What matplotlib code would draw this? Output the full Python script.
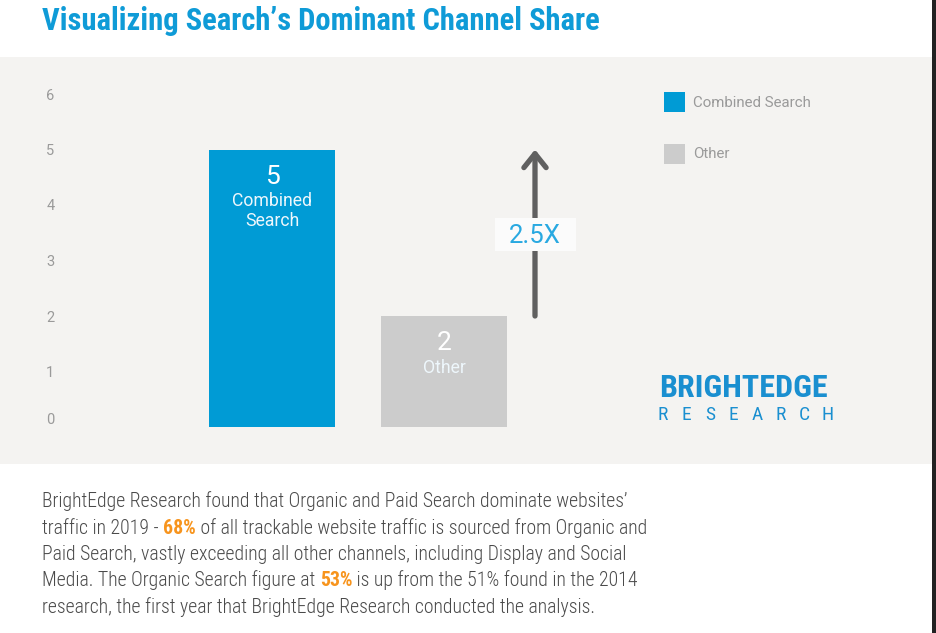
import matplotlib
matplotlib.use('Agg')
import matplotlib.pyplot as plt
from matplotlib import font_manager as fm
from matplotlib.patches import Rectangle, FancyArrowPatch

# ---------------- data ----------------
categories = ['Combined Search', 'Other']
values = [5, 2]
bar_colors = ['#009bd5', '#cccccc']
yticks = [0, 1, 2, 3, 4, 5, 6]
ratio_label = '2.5X'
title = "Visualizing Search\u2019s Dominant Channel Share"
body_lines = [
    [("BrightEdge Research found that Organic and Paid Search dominate websites\u2019", False)],
    [("traffic in 2019 - ", False), ("68%", True),
     (" of all trackable website traffic is sourced from Organic and", False)],
    [("Paid Search, vastly exceeding all other channels, including Display and Social", False)],
    [("Media. The Organic Search figure at ", False), ("53%", True),
     (" is up from the 51% found in the 2014", False)],
    [("research, the first year that BrightEdge Research conducted the analysis.", False)],
]
logo_top = 'BRIGHTEDGE'
logo_bottom = 'RESEARCH'

# ---------------- fonts ----------------
names = {f.name for f in fm.fontManager.ttflist}


def pick(*cands):
    for n in cands:
        if n in names:
            return n
    return 'DejaVu Sans'


COND = pick('Roboto Condensed', 'Liberation Sans Narrow', 'Open Sans Condensed', 'Roboto')
REG = pick('Roboto', 'Liberation Sans', 'DejaVu Sans')

# ---------------- figure ----------------
W, H = 936, 633
fig = plt.figure(figsize=(W / 100, H / 100), dpi=100)
fig.patch.set_facecolor('white')


def fx(px):
    return px / W


def fy(py):
    return 1 - py / H


fig.add_artist(Rectangle((0, fy(464)), 1, fy(57) - fy(464), transform=fig.transFigure,
                         facecolor='#f4f3f1', edgecolor='none', zorder=-2))
fig.add_artist(Rectangle((fx(932), 0), fx(4), 1, transform=fig.transFigure,
                         facecolor='#222222', edgecolor='none', zorder=-1))

# main axes
AXL, AXR = 58, 900
C0, STEP = 272, 172
ax = fig.add_axes([fx(AXL), fy(427), fx(AXR) - fx(AXL), fy(94) - fy(427)])
ax.patch.set_visible(False)
ax.set_ylim(0, 6)
ax.set_xlim(-(C0 - AXL) / STEP, (AXR - C0) / STEP)
xs = list(range(len(categories)))
bars = ax.bar(xs, values, width=126 / STEP, color=bar_colors, zorder=2)
for s in ax.spines.values():
    s.set_visible(False)
ax.set_xticks([])
ax.set_yticks(yticks)
ax.set_yticklabels([str(t) for t in yticks])
ax.tick_params(axis='y', length=0, pad=2.5, labelsize=10.5, labelcolor='#9a9a9a')
for lab in ax.get_yticklabels():
    lab.set_family(REG)
    lab.set_fontweight('normal')
    if lab.get_text() == '0':
        lab.set_va('bottom')

# labels inside bars
PT = 0.72
for i, (cat, v) in enumerate(zip(categories, values)):
    ax.annotate(str(v), xy=(i, v), xytext=(0, -27 * PT), textcoords='offset points',
                ha='center', va='center', fontsize=19, color='white', family=REG, zorder=3)
    for k, word in enumerate(cat.split()):
        ax.annotate(word, xy=(i, v), xytext=(0, -(52 + 20 * k) * PT), textcoords='offset points',
                    ha='center', va='center', fontsize=12.7, color='#eef7fc', family=REG, zorder=3)

# ratio arrow
arrow_x = (535 - C0) / STEP
arr = FancyArrowPatch((arrow_x, values[1]), (arrow_x, values[0]),
                      arrowstyle='->,head_length=0.5,head_width=0.4', mutation_scale=20,
                      lw=3.8, color='#606060', capstyle='round', joinstyle='round',
                      shrinkA=0, shrinkB=0, zorder=3)
ax.add_patch(arr)
mid = (values[0] + values[1]) / 2
bw, bh = 81 / STEP, 33 / ((427 - 94) / 6)
ax.add_patch(Rectangle((arrow_x - bw / 2, mid - bh / 2 - 0.03), bw, bh, facecolor='#fbfbfb',
                       edgecolor='none', zorder=4))
ax.text(arrow_x, mid - 0.05, ratio_label, ha='center', va='center', fontsize=18.5, color='#29a9e1',
        family=REG, fontweight='normal', zorder=5)

# legend
fs_leg = 10.8
fpx = fs_leg / PT
hh = (20 / fpx - 0.245) / 0.65
ax.legend(handles=list(bars), labels=categories, loc='upper left',
          bbox_to_anchor=(fx(664), fy(92)), bbox_transform=fig.transFigure,
          frameon=False, borderpad=0, borderaxespad=0,
          handlelength=21 / fpx, handleheight=hh, handletextpad=8 / fpx,
          labelspacing=31.5 / fpx, prop=dict(family=REG, size=fs_leg),
          labelcolor='#9a9a9a')

# overlay for free text
ov = fig.add_axes([0, 0, 1, 1])
ov.axis('off')
ov.set_xlim(0, 1)
ov.set_ylim(0, 1)

ov.text(fx(42), fy(30), title, ha='left', va='baseline', fontsize=22.1, fontweight='bold',
        family=COND, color='#0f9bd7')

# logo
ov.text(fx(659), fy(397), logo_top, ha='left', va='baseline', fontsize=23, fontweight='bold',
        family=COND, color='#1a8fd0')
for j, ch in enumerate(logo_bottom):
    ov.text(fx(663 + j * 23.5), fy(420), ch, ha='center', va='baseline', fontsize=14,
            family=COND, color='#1a8fd0')

# body text
for k, segs in enumerate(body_lines):
    prev = None
    for txt, bold in segs:
        kw = dict(fontsize=14.2, family=COND,
                  color='#f7941d' if bold else '#4a4a4a',
                  fontweight='bold' if bold else 'light')
        if prev is None:
            prev = ov.annotate(txt, xy=(42, H - (507 + 26.5 * k)), xycoords='figure pixels',
                               ha='left', va='baseline', **kw)
        else:
            prev = ov.annotate(txt, xy=(1, 0), xycoords=prev, ha='left', va='bottom', **kw)

fig.savefig('out.png', dpi=100)
